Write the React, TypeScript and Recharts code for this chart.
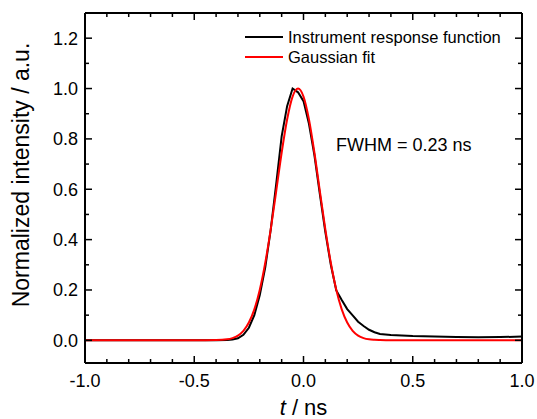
import { LineChart, Line, XAxis, YAxis, Legend, Label } from 'recharts'

// time axis (ns), shared by both curves
const TIME = [
  -1.0, -0.9, -0.8, -0.7, -0.6, -0.5, -0.4, -0.35, -0.325, -0.3, -0.275, -0.25,
  -0.225, -0.2, -0.175, -0.15, -0.125, -0.1, -0.075, -0.05, -0.025, 0, 0.025,
  0.05, 0.075, 0.1, 0.125, 0.15, 0.175, 0.2, 0.225, 0.25, 0.275, 0.3, 0.325,
  0.35, 0.4, 0.45, 0.5, 0.6, 0.7, 0.8, 0.9, 1.0,
]

// measured instrument response (normalized)
const IRF = [
  0, 0, 0, 0, 0, 0, 0, 0.001, 0.003, 0.008, 0.022, 0.05,
  0.1, 0.18, 0.29, 0.44, 0.62, 0.81, 0.93, 1.0, 0.985, 0.95, 0.86,
  0.735, 0.58, 0.43, 0.3, 0.198, 0.16, 0.124, 0.099, 0.074, 0.057, 0.042, 0.032,
  0.025, 0.021, 0.019, 0.017, 0.015, 0.013, 0.012, 0.013, 0.015,
]

// gaussian fit (normalized)
const FIT = [
  0, 0, 0, 0, 0, 0, 0.001, 0.004, 0.009, 0.019, 0.038, 0.071,
  0.123, 0.201, 0.308, 0.441, 0.592, 0.745, 0.877, 0.968, 1.0, 0.968, 0.877,
  0.745, 0.592, 0.441, 0.308, 0.201, 0.123, 0.071, 0.038, 0.019, 0.009, 0.004, 0.002,
  0.001, 0, 0, 0, 0, 0, 0, 0, 0,
]

const X_TICKS = [-1, -0.9, -0.8, -0.7, -0.6, -0.5, -0.4, -0.3, -0.2, -0.1, 0, 0.1, 0.2, 0.3, 0.4, 0.5, 0.6, 0.7, 0.8, 0.9, 1]
const Y_TICKS = [0, 0.1, 0.2, 0.3, 0.4, 0.5, 0.6, 0.7, 0.8, 0.9, 1.0, 1.1, 1.2]

const SERIES = [
  { name: 'Instrument response function', color: '#000000' },
  { name: 'Gaussian fit', color: '#ff0000' },
]

const irfData = TIME.map((t, i) => ({ t, v: IRF[i] }))
const fitData = TIME.map((t, i) => ({ t, v: FIT[i] }))

const FONT = '"Liberation Sans", Arial, sans-serif'

const isMajor = (v: number, step: number) =>
  Math.abs(v / step - Math.round(v / step)) < 1e-6

// inward ticks, longer on major values
const BottomTick = ({ x, y, payload }: any) => {
  const major = isMajor(payload.value, 0.5)
  return (
    <g>
      <line x1={x} x2={x} y1={y} y2={y - (major ? 7 : 4)} stroke="#000" strokeWidth={1.5} />
      {major && (
        <text x={x} y={y + 24} textAnchor="middle" fontSize={18} fontFamily={FONT} fill="#000">
          {payload.value.toFixed(1)}
        </text>
      )}
    </g>
  )
}

const TopTick = ({ x, y, payload }: any) => {
  const major = isMajor(payload.value, 0.5)
  return <line x1={x} x2={x} y1={y} y2={y + (major ? 7 : 4)} stroke="#000" strokeWidth={1.5} />
}

const LeftTick = ({ x, y, payload }: any) => {
  const major = isMajor(payload.value, 0.2)
  return (
    <g>
      <line x1={x} x2={x + (major ? 7 : 4)} y1={y} y2={y} stroke="#000" strokeWidth={1.5} />
      {major && (
        <text x={x - 7} y={y + 6.5} textAnchor="end" fontSize={18} fontFamily={FONT} fill="#000">
          {payload.value.toFixed(1)}
        </text>
      )}
    </g>
  )
}

const RightTick = ({ x, y, payload }: any) => {
  const major = isMajor(payload.value, 0.2)
  return <line x1={x} x2={x - (major ? 7 : 4)} y1={y} y2={y} stroke="#000" strokeWidth={1.5} />
}

const LegendBox = () => (
  <div style={{ fontFamily: FONT, fontSize: 16.5, color: '#000' }}>
    {SERIES.map((s) => (
      <div key={s.name} style={{ display: 'flex', alignItems: 'center', height: 20 }}>
        <div style={{ width: 38, height: 2, backgroundColor: s.color, marginRight: 5 }} />
        <span style={{ lineHeight: '20px', whiteSpace: 'nowrap' }}>{s.name}</span>
      </div>
    ))}
  </div>
)

const axisLine = { stroke: '#000', strokeWidth: 2 }

export default function App() {
  return (
    <div style={{ position: 'absolute', left: 0, top: 0, background: '#fff' }}>
      <LineChart width={537} height={419} margin={{ top: 12, right: 14, bottom: 0, left: 0 }}>
        <XAxis
          xAxisId="b"
          dataKey="t"
          type="number"
          domain={[-1, 1]}
          ticks={X_TICKS}
          interval={0}
          height={56}
          axisLine={axisLine}
          tickLine={false}
          tickSize={0}
          tickMargin={0}
          tick={<BottomTick />}
          allowDataOverflow
        >
          <Label
            content={() => (
              <text x={303.5} y={415} textAnchor="middle" fontSize={22} fontFamily={FONT} fill="#000">
                <tspan fontStyle="italic">t</tspan> / ns
              </text>
            )}
          />
        </XAxis>
        <XAxis
          xAxisId="top"
          orientation="top"
          type="number"
          dataKey="t"
          domain={[-1, 1]}
          ticks={X_TICKS}
          interval={0}
          height={1}
          axisLine={axisLine}
          tickLine={false}
          tickSize={0}
          tickMargin={0}
          tick={<TopTick />}
          allowDataOverflow
        />
        <YAxis
          yAxisId="l"
          type="number"
          domain={[-0.09, 1.3]}
          ticks={Y_TICKS}
          interval={0}
          width={85}
          axisLine={axisLine}
          tickLine={false}
          tickSize={0}
          tickMargin={0}
          tick={<LeftTick />}
          allowDataOverflow
        >
          <Label
            content={() => (
              <text
                x={29}
                y={175}
                transform="rotate(-90, 29, 175)"
                textAnchor="middle"
                fontSize={23}
                fontFamily={FONT}
                fill="#000"
              >
                Normalized intensity / a.u.
              </text>
            )}
          />
        </YAxis>
        <YAxis
          yAxisId="r"
          orientation="right"
          type="number"
          domain={[-0.09, 1.3]}
          ticks={Y_TICKS}
          interval={0}
          width={1}
          axisLine={axisLine}
          tickLine={false}
          tickSize={0}
          tickMargin={0}
          tick={<RightTick />}
          allowDataOverflow
        />
        <Legend
          layout="horizontal"
          verticalAlign="middle"
          align="center"
          content={<LegendBox />}
          wrapperStyle={{ position: 'absolute', left: 245, top: 27, width: 'auto' }}
        />
        <Line
          xAxisId="b"
          yAxisId="l"
          data={irfData}
          dataKey="v"
          name={SERIES[0].name}
          type="linear"
          stroke={SERIES[0].color}
          strokeWidth={2}
          dot={false}
          isAnimationActive={false}
        />
        <Line
          xAxisId="top"
          yAxisId="r"
          data={fitData}
          dataKey="v"
          name={SERIES[1].name}
          type="monotone"
          stroke={SERIES[1].color}
          strokeWidth={2}
          dot={false}
          isAnimationActive={false}
        />
        <text x={336} y={151} fontSize={18} fontFamily={FONT} fill="#000">
          FWHM = 0.23 ns
        </text>
      </LineChart>
    </div>
  )
}
